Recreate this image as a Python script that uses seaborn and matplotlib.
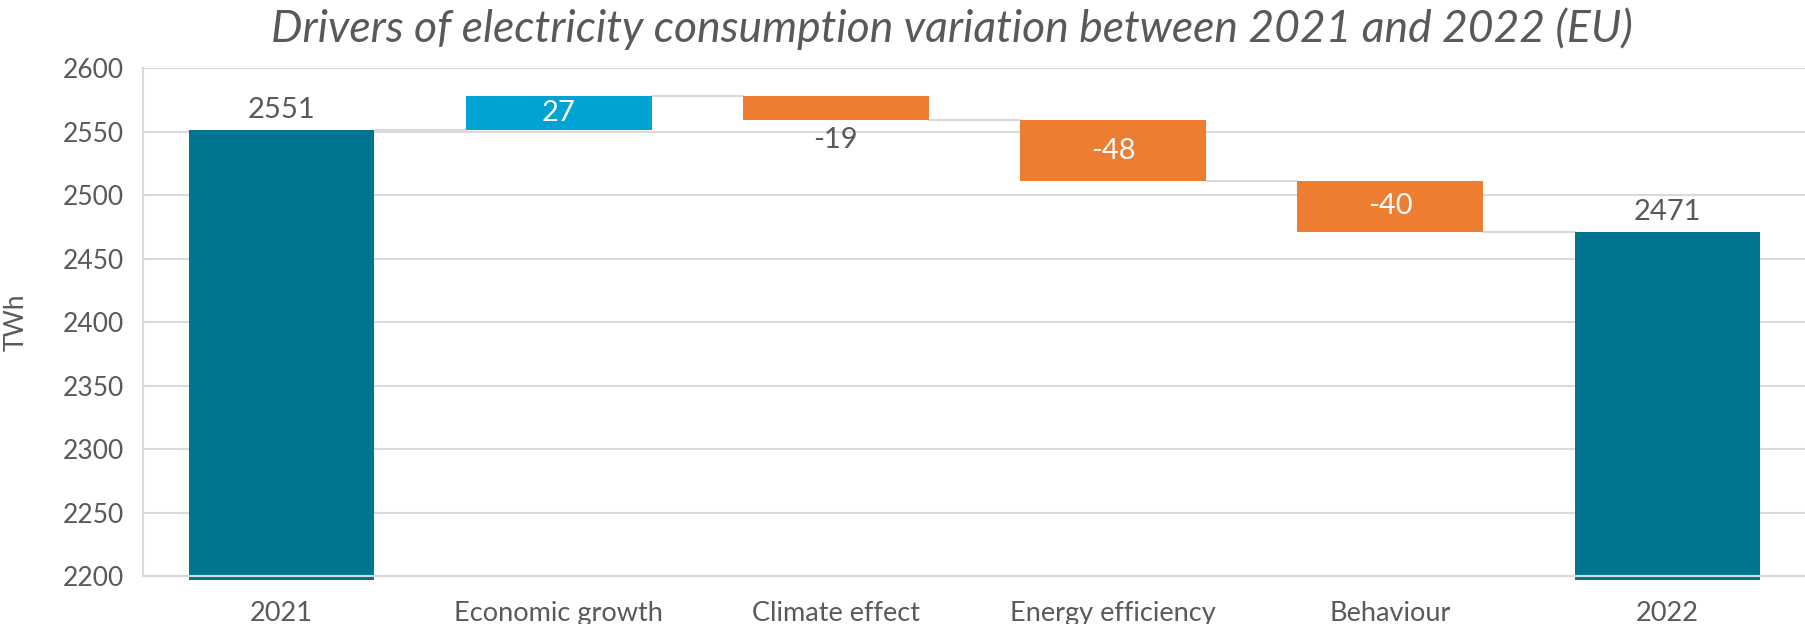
import matplotlib
matplotlib.use("Agg")
import matplotlib.pyplot as plt
import numpy as np
import pandas as pd
import seaborn as sns

# Waterfall data (TWh)
categories = ["2021", "Economic growth", "Climate effect", "Energy efficiency", "Behaviour", "2022"]
start_total = 2551
changes = [27, -19, -48, -40]
end_total = 2471
kinds = ["total", "delta", "delta", "delta", "delta", "total"]

y_min, y_max, y_step = 2200, 2600, 50

TOTAL_C = "#00758F"
UP_C = "#00A3D3"
DOWN_C = "#ED7D31"
TEXT_C = "#595959"
GRID_C = "#D9D9D9"

# Build bar bottoms and heights from the running total
levels = [start_total]
for c in changes:
    levels.append(levels[-1] + c)
values = [start_total] + changes + [end_total]
bottoms, heights, colors = [], [], []
for i, v in enumerate(values):
    if kinds[i] == "total":
        b = y_min - 3
        bottoms.append(b)
        heights.append(v - b)
        colors.append(TOTAL_C)
    else:
        prev = levels[i - 1]
        bottoms.append(min(prev, prev + v))
        heights.append(abs(v))
        colors.append(UP_C if v > 0 else DOWN_C)

df = pd.DataFrame({"category": categories, "height": heights, "bottom": bottoms})

sns.set_theme(style="white")
plt.rcParams["font.family"] = ["Lato", "DejaVu Sans"]

fig = plt.figure(figsize=(18.06, 6.24), dpi=100)
ax = fig.add_axes([0.0792, 0.0769, 0.9208, 0.8141])

sns.barplot(data=df, x="category", y="height", bottom=df["bottom"].values,
            color=TOTAL_C, width=0.67, ax=ax, zorder=2, clip_on=False)
for patch, col in zip(ax.patches, colors):
    patch.set_facecolor(col)
    patch.set_edgecolor("none")
    patch.set_clip_on(False)

ax.set_ylim(y_min, y_max)
ax.set_xlim(-0.5, len(categories) - 0.5)
ax.set_yticks(np.arange(y_min, y_max + 1, y_step))
ax.yaxis.grid(True, color=GRID_C, linewidth=1.5, zorder=0)
ax.set_axisbelow(True)
ax.axhline(y_min, color=GRID_C, linewidth=1.5, zorder=3, clip_on=False)
for s in ["top", "right", "bottom"]:
    ax.spines[s].set_visible(False)
ax.spines["left"].set_color(GRID_C)
ax.spines["left"].set_linewidth(1.5)

# Connector lines between consecutive bars
half = 0.67 / 2
connect = [start_total] + levels[1:]
for i, lvl in enumerate(connect):
    ax.plot([i + half, i + 1 - half], [lvl, lvl], color=GRID_C, linewidth=1.5, zorder=1)

ax.tick_params(axis="y", length=0, pad=14, labelsize=19, labelcolor=TEXT_C)
ax.tick_params(axis="x", length=0, pad=18, labelsize=19.5, labelcolor=TEXT_C)
ax.set_xlabel("")
ax.set_ylabel("TWh", fontsize=19, color=TEXT_C)
ax.yaxis.set_label_coords(-0.069, 0.5)

# Value labels
for i, v in enumerate(values):
    top = bottoms[i] + heights[i]
    if kinds[i] == "total":
        ax.annotate(f"{v}", (i, top), xytext=(0, 5), textcoords="offset points",
                    ha="center", va="bottom", fontsize=21, color=TEXT_C)
    elif heights[i] >= 25:
        ax.text(i, bottoms[i] + heights[i] / 2, f"{v}", ha="center", va="center",
                fontsize=21, color="white", zorder=4)
    else:
        ax.annotate(f"{v}", (i, bottoms[i]), xytext=(0, -5), textcoords="offset points",
                    ha="center", va="top", fontsize=21, color=TEXT_C)

fig.text(0.527, 1 - 29 / 624, "Drivers of electricity consumption variation between 2021 and 2022 (EU)",
         ha="center", va="center", fontsize=32, style="italic", color=TEXT_C)

fig.savefig("out.png", dpi=100)
